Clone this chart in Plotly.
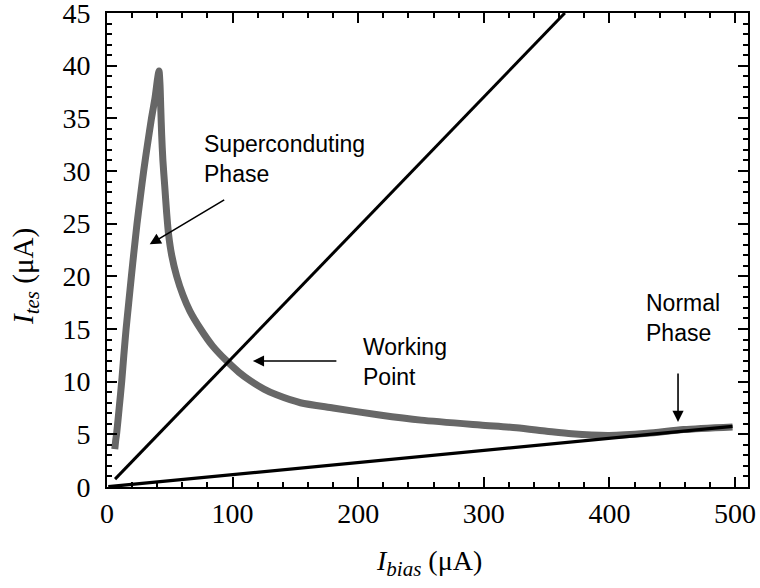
import plotly.graph_objects as go

# ---- data ----
x_range = [0, 510.3]
y_range = [0, 45]
x_ticks = [0, 100, 200, 300, 400, 500]
y_ticks = [0, 5, 10, 15, 20, 25, 30, 35, 40, 45]

# measured TES current vs bias current (grey curve)
curve_x = [6.2, 7.0, 7.7, 9.7, 11.7, 13.4, 15.2, 17.3, 19.4, 21.6, 23.9, 26.5,
           29.2, 32.2, 35.4, 38.3, 40.3, 41.4, 42.2, 42.8, 43.5, 44.5, 46.0,
           47.5, 49.0, 51.5, 55.5, 60.5, 66.0, 74.5, 84.0, 95.0, 105.0, 114.0,
           125.0, 135.0, 154.0, 180.0, 217.0, 250.0, 297.0, 326.0, 350.0, 370.0,
           400.0, 430.0, 459.0, 498.0]
curve_y = [3.6, 4.5, 5.1, 7.5, 10.0, 12.5, 15.0, 17.5, 20.0, 22.5, 25.0, 27.5,
           30.0, 32.5, 35.0, 37.0, 38.8, 39.5, 38.2, 36.0, 33.5, 31.0, 28.5,
           26.0, 24.0, 22.0, 20.0, 18.2, 16.7, 15.0, 13.4, 12.0, 10.9, 10.1,
           9.3, 8.75, 8.0, 7.5, 6.84, 6.35, 5.89, 5.63, 5.3, 5.05, 4.9, 5.1,
           5.45, 5.7]

# load line through the working point
load_x = [6.4, 364.5]
load_y = [0.75, 45.0]

# normal-state line
normal_x = [1.0, 498.0]
normal_y = [0.03, 5.75]

# annotation labels and arrows (head -> tail), in data units
label_texts = ["Superconduting<br>Phase", "Working<br>Point", "Normal<br>Phase"]
label_x = [75.4, 202.1, 427.5]
label_y = [31.1, 11.87, 16.0]
arrow_head_x = [34.0, 116.1, 454.6]
arrow_head_y = [23.04, 11.96, 6.17]
arrow_tail_x = [94.5, 183.8, 454.6]
arrow_tail_y = [27.34, 11.96, 10.92]

SUB = '<sub><span style="font-size:21px"><i>{}</i></span></sub>'
x_title = "<i>I</i>" + SUB.format("bias") + " (μA)"
y_title = "<i>I</i>" + SUB.format("tes") + " (μA)"

SERIF = "Liberation Serif, Times New Roman, serif"
SANS = "Liberation Sans, Arial, sans-serif"

fig = go.Figure()
fig.add_trace(go.Scatter(x=curve_x, y=curve_y, mode="lines",
                         line=dict(color="#676767", width=7, shape="spline",
                                   smoothing=0.7),
                         showlegend=False, hoverinfo="skip"))
fig.add_trace(go.Scatter(x=load_x, y=load_y, mode="lines",
                         line=dict(color="black", width=3), showlegend=False,
                         hoverinfo="skip"))
fig.add_trace(go.Scatter(x=normal_x, y=normal_y, mode="lines",
                         line=dict(color="black", width=3.2), showlegend=False,
                         hoverinfo="skip"))

annotations = []
for t, lx, ly in zip(label_texts, label_x, label_y):
    annotations.append(dict(x=lx, y=ly, xref="x", yref="y", text=t, showarrow=False,
                            xanchor="left", yanchor="middle", align="left",
                            font=dict(family=SANS, size=23, color="black")))
for hx, hy, tx, ty in zip(arrow_head_x, arrow_head_y, arrow_tail_x, arrow_tail_y):
    annotations.append(dict(x=hx, y=hy, ax=tx, ay=ty, xref="x", yref="y",
                            axref="x", ayref="y", text="", showarrow=True,
                            arrowhead=2, arrowsize=1.4, arrowwidth=1.6,
                            arrowcolor="black", standoff=0, startstandoff=0))
annotations.append(dict(x=0.502, y=-0.160, xref="paper", yref="paper", text=x_title,
                        showarrow=False, xanchor="center", yanchor="middle",
                        font=dict(family=SERIF, size=28, color="black")))
annotations.append(dict(x=-0.128, y=0.445, xref="paper", yref="paper", text=y_title,
                        showarrow=False, xanchor="center", yanchor="middle",
                        textangle=-90,
                        font=dict(family=SERIF, size=29, color="black")))

axis_common = dict(showline=True, linewidth=2, linecolor="black", mirror="allticks",
                   ticks="inside", ticklen=10, tickwidth=2, tickcolor="black",
                   showgrid=False, zeroline=False, ticklabeloverflow="allow",
                   automargin=False,
                   tickfont=dict(family=SERIF, size=28, color="black"))

fig.update_layout(
    width=760, height=588,
    margin=dict(l=107, r=12, t=13, b=101),
    paper_bgcolor="white", plot_bgcolor="white",
    xaxis=dict(range=x_range, tickvals=x_ticks, ticklabelstandoff=0,
               minor=dict(dtick=20, tick0=0, ticks="inside", ticklen=5,
                          tickwidth=1.5, tickcolor="black"),
               **axis_common),
    yaxis=dict(range=y_range, tickvals=y_ticks, ticklabelstandoff=9,
               minor=dict(dtick=1, tick0=0, ticks="inside", ticklen=5,
                          tickwidth=1.5, tickcolor="black"),
               **axis_common),
    annotations=annotations,
)

fig.write_html("out.html")
